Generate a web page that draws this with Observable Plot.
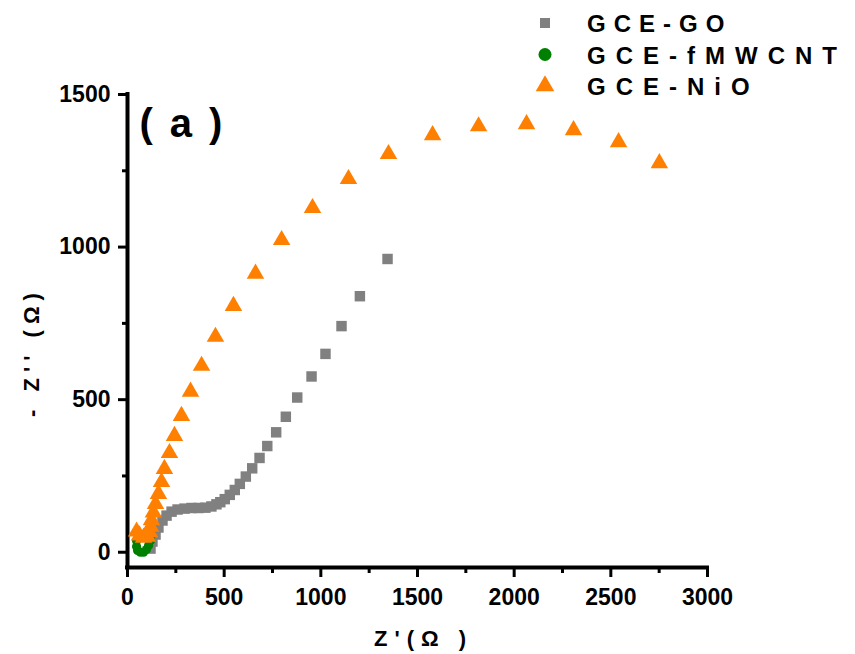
<!DOCTYPE html>
<html><head><meta charset="utf-8">
<script src="https://cdn.jsdelivr.net/npm/d3@7"></script>
<script src="https://cdn.jsdelivr.net/npm/@observablehq/plot@0.6"></script>
<style>
html,body{margin:0;padding:0;background:#fff;}
#chart{position:relative;width:855px;height:654px;overflow:hidden;}
#chart svg{position:absolute;left:0;top:0;}
</style></head><body><div id="chart"></div>
<script>
// ---- data ----
const seriesNames = ["GCE-GO", "GCE-fMWCNT", "GCE-NiO"];
const seriesColors = ["#808080", "#008000", "#ff8000"];
const seriesSymbols = ["square", "circle", "triangle"];

const goZre = [119,129,145,160,181,202,228,259,295,331,367,403,434,460,480,503,529,555,581,612,645,683,723,769,819,878,952,1024,1107,1202,1345];
const goZim = [12,35,58,81,104,120,133,140,143,145,145,146,150,157,164,174,188,204,224,248,275,309,348,393,444,507,576,650,741,839,961];

const cntZre = [47,47,52,67,83,98,109,119,124];
const cntZim = [38,19,6,0,0,9,22,38,58];

const nioZre = [2751,2540,2307,2064,1816,1578,1350,1143,957,797,662,548,455,383,326,279,243,217,191,176,160,145,134,124,119,114,103,83,62,47];
const nioZim = [1275,1344,1383,1403,1396,1367,1305,1223,1128,1023,913,807,706,611,526,447,381,325,273,230,191,158,130,105,84,66,51,48,55,68];

const xDomain = [0, 3000];
const yDomain = [-50, 1500];
const xTicks = [0,500,1000,1500,2000,2500,3000];
const xMinorTicks = [250,750,1250,1750,2250,2750];
const yTicks = [0,500,1000,1500];
const yMinorTicks = [250,750,1250];
const xLabel = "Z'(Ω )";
const yLabel = "- Z'' (Ω)";
const panelLabel = "(a)";

// ---- chart ----
const FONT = "'Liberation Sans', Arial, Helvetica, sans-serif";
const chart = Plot.plot({
  width: 855, height: 654,
  marginLeft: 127, marginRight: 148, marginTop: 94, marginBottom: 87,
  style: {fontFamily: FONT, background: "white", color: "black"},
  x: {domain: xDomain},
  y: {domain: yDomain},
  marks: [
    Plot.axisX({ticks: xTicks, tickSize: 10, tickPadding: 11, strokeWidth: 3, fontSize: 23, fontWeight: "bold", tickFormat: d => String(d), label: null}),
    Plot.axisX({ticks: xMinorTicks, tickSize: 6, strokeWidth: 3, tickFormat: () => "", label: null}),
    Plot.axisY({ticks: yTicks, tickSize: 9, tickPadding: 8, strokeWidth: 3, fontSize: 23, fontWeight: "bold", tickFormat: d => String(d), label: null}),
    Plot.axisY({ticks: yMinorTicks, tickSize: 5, strokeWidth: 3, tickFormat: () => "", label: null}),
    Plot.ruleX([xDomain[0]], {strokeWidth: 4, strokeLinecap: "square"}),
    Plot.ruleY([yDomain[0]], {strokeWidth: 4, strokeLinecap: "square"}),
    Plot.dot(goZre, {x: goZre, y: goZim, symbol: seriesSymbols[0], r: 5.9, fill: seriesColors[0]}),
    Plot.dot(cntZre, {x: cntZre, y: cntZim, symbol: seriesSymbols[1], r: 4.6, fill: seriesColors[1]}),
    Plot.dot(nioZre, {x: nioZre, y: nioZim, symbol: seriesSymbols[2], r: 6.5, fill: seriesColors[2]}),
    Plot.text([xLabel], {frameAnchor: "bottom", textAnchor: "middle", dx: 6, dy: 78, lineAnchor: "bottom", fontSize: 22, fontWeight: "bold", fill: "black"}),
    Plot.text([yLabel], {frameAnchor: "left", textAnchor: "middle", rotate: -90, dx: -96, dy: 21, lineAnchor: "middle", fontSize: 22, fontWeight: "bold", fill: "black"}),
    Plot.text([panelLabel], {frameAnchor: "top-left", textAnchor: "start", dx: 12, dy: 42, lineAnchor: "bottom", fontSize: 40, fontWeight: "bold", fill: "black"})
  ]
});
document.getElementById("chart").appendChild(chart);
// letter spacing on labels
d3.select(chart).selectAll("text").filter(function(){return this.textContent === yLabel;}).style("letter-spacing", "6px");
d3.select(chart).selectAll("text").filter(function(){return this.textContent === xLabel;}).style("letter-spacing", "7px");
d3.select(chart).selectAll("text").filter(function(){return this.textContent === panelLabel;}).style("letter-spacing", "17px");

// ---- legend ----
const legendStyle = {
  "GCE-GO": {ls: 8, sym: 100},
  "GCE-fMWCNT": {ls: 10, sym: 133},
  "GCE-NiO": {ls: 10, sym: 150}
};
const symbolMap = {square: d3.symbolSquare, circle: d3.symbolCircle, triangle: d3.symbolTriangle};
const leg = d3.select("#chart").append("svg").attr("width", 855).attr("height", 110)
  .style("pointer-events", "none");
seriesNames.forEach((name, i) => {
  const g = leg.append("g").attr("transform", `translate(545,${23 + i * 31.5})`);
  g.append("path").attr("d", d3.symbol(symbolMap[seriesSymbols[i]], legendStyle[name].sym)())
    .attr("fill", seriesColors[i]);
  g.append("text").attr("x", 42).attr("y", 9).text(name)
    .attr("font-family", FONT).attr("font-weight", "bold").attr("font-size", 24)
    .style("letter-spacing", legendStyle[name].ls + "px");
});
</script></body></html>
